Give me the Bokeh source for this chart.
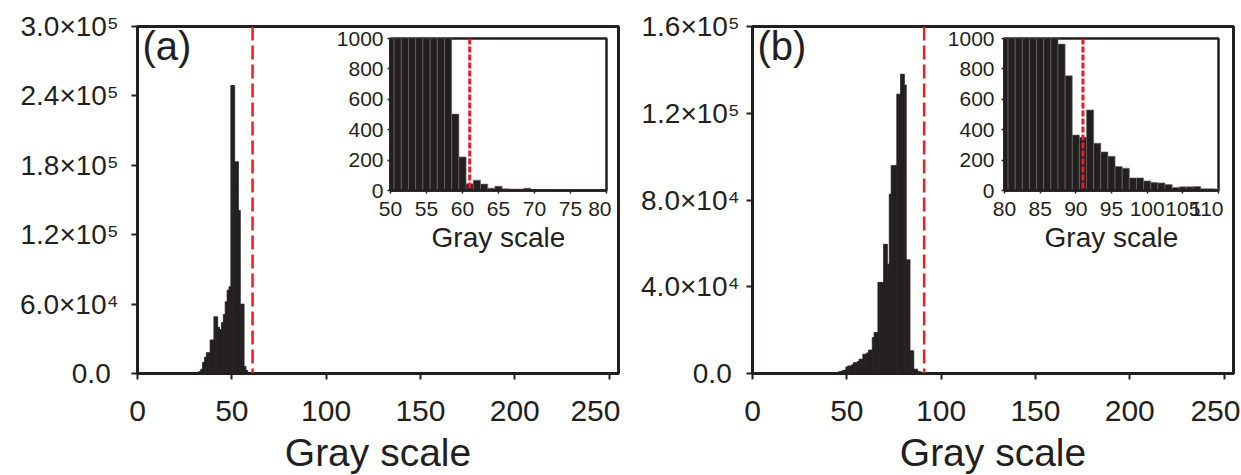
from bokeh.plotting import figure
from bokeh.models import Range1d, FixedTicker, Span, Label, Row
from bokeh.layouts import column
from bokeh.embed import file_html
from bokeh.resources import INLINE

FONT = "Liberation Sans"
INK = "#231f20"
RED = "#ed1c24"

# ---------------- data ----------------
gray_a = list(range(30, 81))
counts_a = [80, 200, 500, 1700, 3700, 9500, 14000, 18000, 18000, 29000,
            29000, 49000, 49000, 40000, 38000, 44000, 51000, 62000, 72000, 75000,
            249000, 249000, 183000, 183000, 141000, 60000, 60000, 6000, 2500, 503,
            221, 44, 68, 42, 15, 28, 11, 9, 9, 15,
            4, 3, 3, 2, 2, 2, 1, 1, 1, 1,
            1]
threshold_a = 61

gray_b = list(range(44, 131))
counts_b = [300, 500, 800, 1000, 1300, 1600, 3000, 3500, 3500, 4000,
            5000, 5000, 5500, 6600, 6600, 8900, 8900, 9500, 10800, 10800,
            16600, 18900, 18900, 42000, 42000, 42000, 59600, 59600, 50400, 82700,
            95800, 95800, 96000, 128800, 128800, 138000, 138000, 133000, 52400, 52400,
            10500, 10500, 2000, 2000, 963, 755, 365, 350, 530, 311,
            254, 225, 158, 147, 83, 83, 63, 53, 50, 39,
            20, 24, 24, 26, 11, 11, 9, 8, 7, 7,
            6, 5, 5, 4, 4, 3, 3, 3, 2, 2,
            2, 2, 1, 1, 1, 1, 1]
threshold_b = 91

x_ticks_main = [0, 50, 100, 150, 200, 250]
y_ticks_a = [0, 60000, 120000, 180000, 240000, 300000]
y_labels_a = ["0.0\u00a0", "6.0×10⁴", "1.2×10⁵", "1.8×10⁵", "2.4×10⁵", "3.0×10⁵"]
y_ticks_b = [0, 40000, 80000, 120000, 160000]
y_labels_b = ["0.0\u00a0", "4.0×10⁴", "8.0×10⁴", "1.2×10⁵", "1.6×10⁵"]

inset_y_ticks = [0, 200, 400, 600, 800, 1000]
inset_x_ticks_a = [50, 55, 60, 65, 70, 75, 80]
inset_x_ticks_b = [80, 85, 90, 95, 100, 105, 110]

x_label = "Gray scale"

MAIN_H = 483
INSET_TOP = 14
INSET_H = INSET_TOP + 152 + 71


def style_axes(p, xsize, ysize, xstand, ystand, lw, tick_out, tick_w):
    p.xgrid.visible = False
    p.ygrid.visible = False
    for ax in (p.xaxis[0], p.yaxis[0]):
        ax.axis_line_color = INK
        ax.axis_line_width = lw
        ax.major_tick_line_color = INK
        ax.major_tick_line_width = tick_w
        ax.major_tick_out = tick_out
        ax.major_tick_in = 0
        ax.minor_tick_line_color = None
        ax.major_label_text_font = FONT
        ax.major_label_text_color = INK
    p.xaxis.major_label_text_font_size = xsize
    p.yaxis.major_label_text_font_size = ysize
    p.xaxis.major_label_standoff = xstand
    p.yaxis.major_label_standoff = ystand
    p.outline_line_color = INK
    p.outline_line_width = lw
    p.outline_line_alpha = 1.0


def main_fig(gray, counts, ymax, yticks, ylabels, thr, tag, left, right, ystand):
    p = figure(width=left + 481 + right, height=MAIN_H, title=None,
               x_range=Range1d(0, 255), y_range=Range1d(0, ymax),
               min_border_left=left, min_border_right=right,
               min_border_top=26, min_border_bottom=MAIN_H - 26 - 347,
               output_backend="svg", toolbar_location=None, frame_align=False)
    p.vbar(x=gray, top=counts, width=1.0, bottom=0,
           fill_color=INK, line_color=INK, line_width=0.8)
    p.add_layout(Span(location=thr, dimension="height", line_color=RED,
                      line_width=2.5, line_dash="14 5"))
    style_axes(p, "30px", "28px", 21, ystand, 3, 6, 2)
    p.xaxis.ticker = FixedTicker(ticks=x_ticks_main)
    p.yaxis.ticker = FixedTicker(ticks=yticks)
    p.yaxis.major_label_overrides = {t: s for t, s in zip(yticks, ylabels)}
    p.xaxis.axis_label = x_label
    p.xaxis.axis_label_text_font = FONT
    p.xaxis.axis_label_text_font_size = "39px"
    p.xaxis.axis_label_text_font_style = "normal"
    p.xaxis.axis_label_text_color = INK
    p.xaxis.axis_label_standoff = 7
    p.add_layout(Label(x=0, y=ymax, x_offset=5, y_offset=-19, text=tag,
                       text_font=FONT, text_font_size="40px",
                       text_color=INK, text_baseline="alphabetic",
                       text_align="left"))
    return p


def inset_fig(gray, counts, x0, x1, xticks, thr, ystand):
    p = figure(width=58 + 216 + 5, height=INSET_H, title=None,
               x_range=Range1d(x0, x1), y_range=Range1d(0, 1000),
               min_border_left=58, min_border_right=5,
               min_border_top=INSET_TOP, min_border_bottom=71,
               output_backend="svg", toolbar_location=None, frame_align=False,
               border_fill_color=None, background_fill_color="white")
    p.vbar(x=gray, top=counts, width=1.0, bottom=0,
           fill_color=INK, line_color="#6b6b6b", line_width=0.6)
    p.add_layout(Span(location=thr, dimension="height", line_color=RED,
                      line_width=3, line_dash="6 2"))
    style_axes(p, "21px", "21px", 8, ystand, 2.5, 3, 1.5)
    p.xaxis.ticker = FixedTicker(ticks=xticks)
    p.yaxis.ticker = FixedTicker(ticks=inset_y_ticks)
    p.xaxis.axis_label = x_label
    p.xaxis.axis_label_text_font = FONT
    p.xaxis.axis_label_text_font_size = "28px"
    p.xaxis.axis_label_text_font_style = "normal"
    p.xaxis.axis_label_text_color = INK
    p.xaxis.axis_label_standoff = 3
    return p


main_a = main_fig(gray_a, counts_a, 300000, y_ticks_a, y_labels_a, threshold_a,
                  "(a)", 137, 2, 13)
main_b = main_fig(gray_b, counts_b, 160000, y_ticks_b, y_labels_b, threshold_b,
                  "(b)", 132, 7, 7)

inset_a = inset_fig(gray_a, counts_a, 50, 80, inset_x_ticks_a, threshold_a, 4)
inset_b = inset_fig(gray_b, counts_b, 80, 110, inset_x_ticks_b, threshold_b, 7)

inset_top_px = 38 - INSET_TOP
top_m = inset_top_px - MAIN_H
bot_m = MAIN_H - inset_top_px - INSET_H
inset_a.margin = (top_m, 0, bot_m, 332)
inset_b.margin = (top_m, 0, bot_m, 324)

col_a = column(main_a, inset_a, spacing=0)
col_b = column(main_b, inset_b, spacing=0)
layout = Row(children=[col_a, col_b], spacing=0, width=1241, height=475,
             styles={"overflow": "hidden"})

open("out.html", "w").write(file_html(layout, INLINE))
